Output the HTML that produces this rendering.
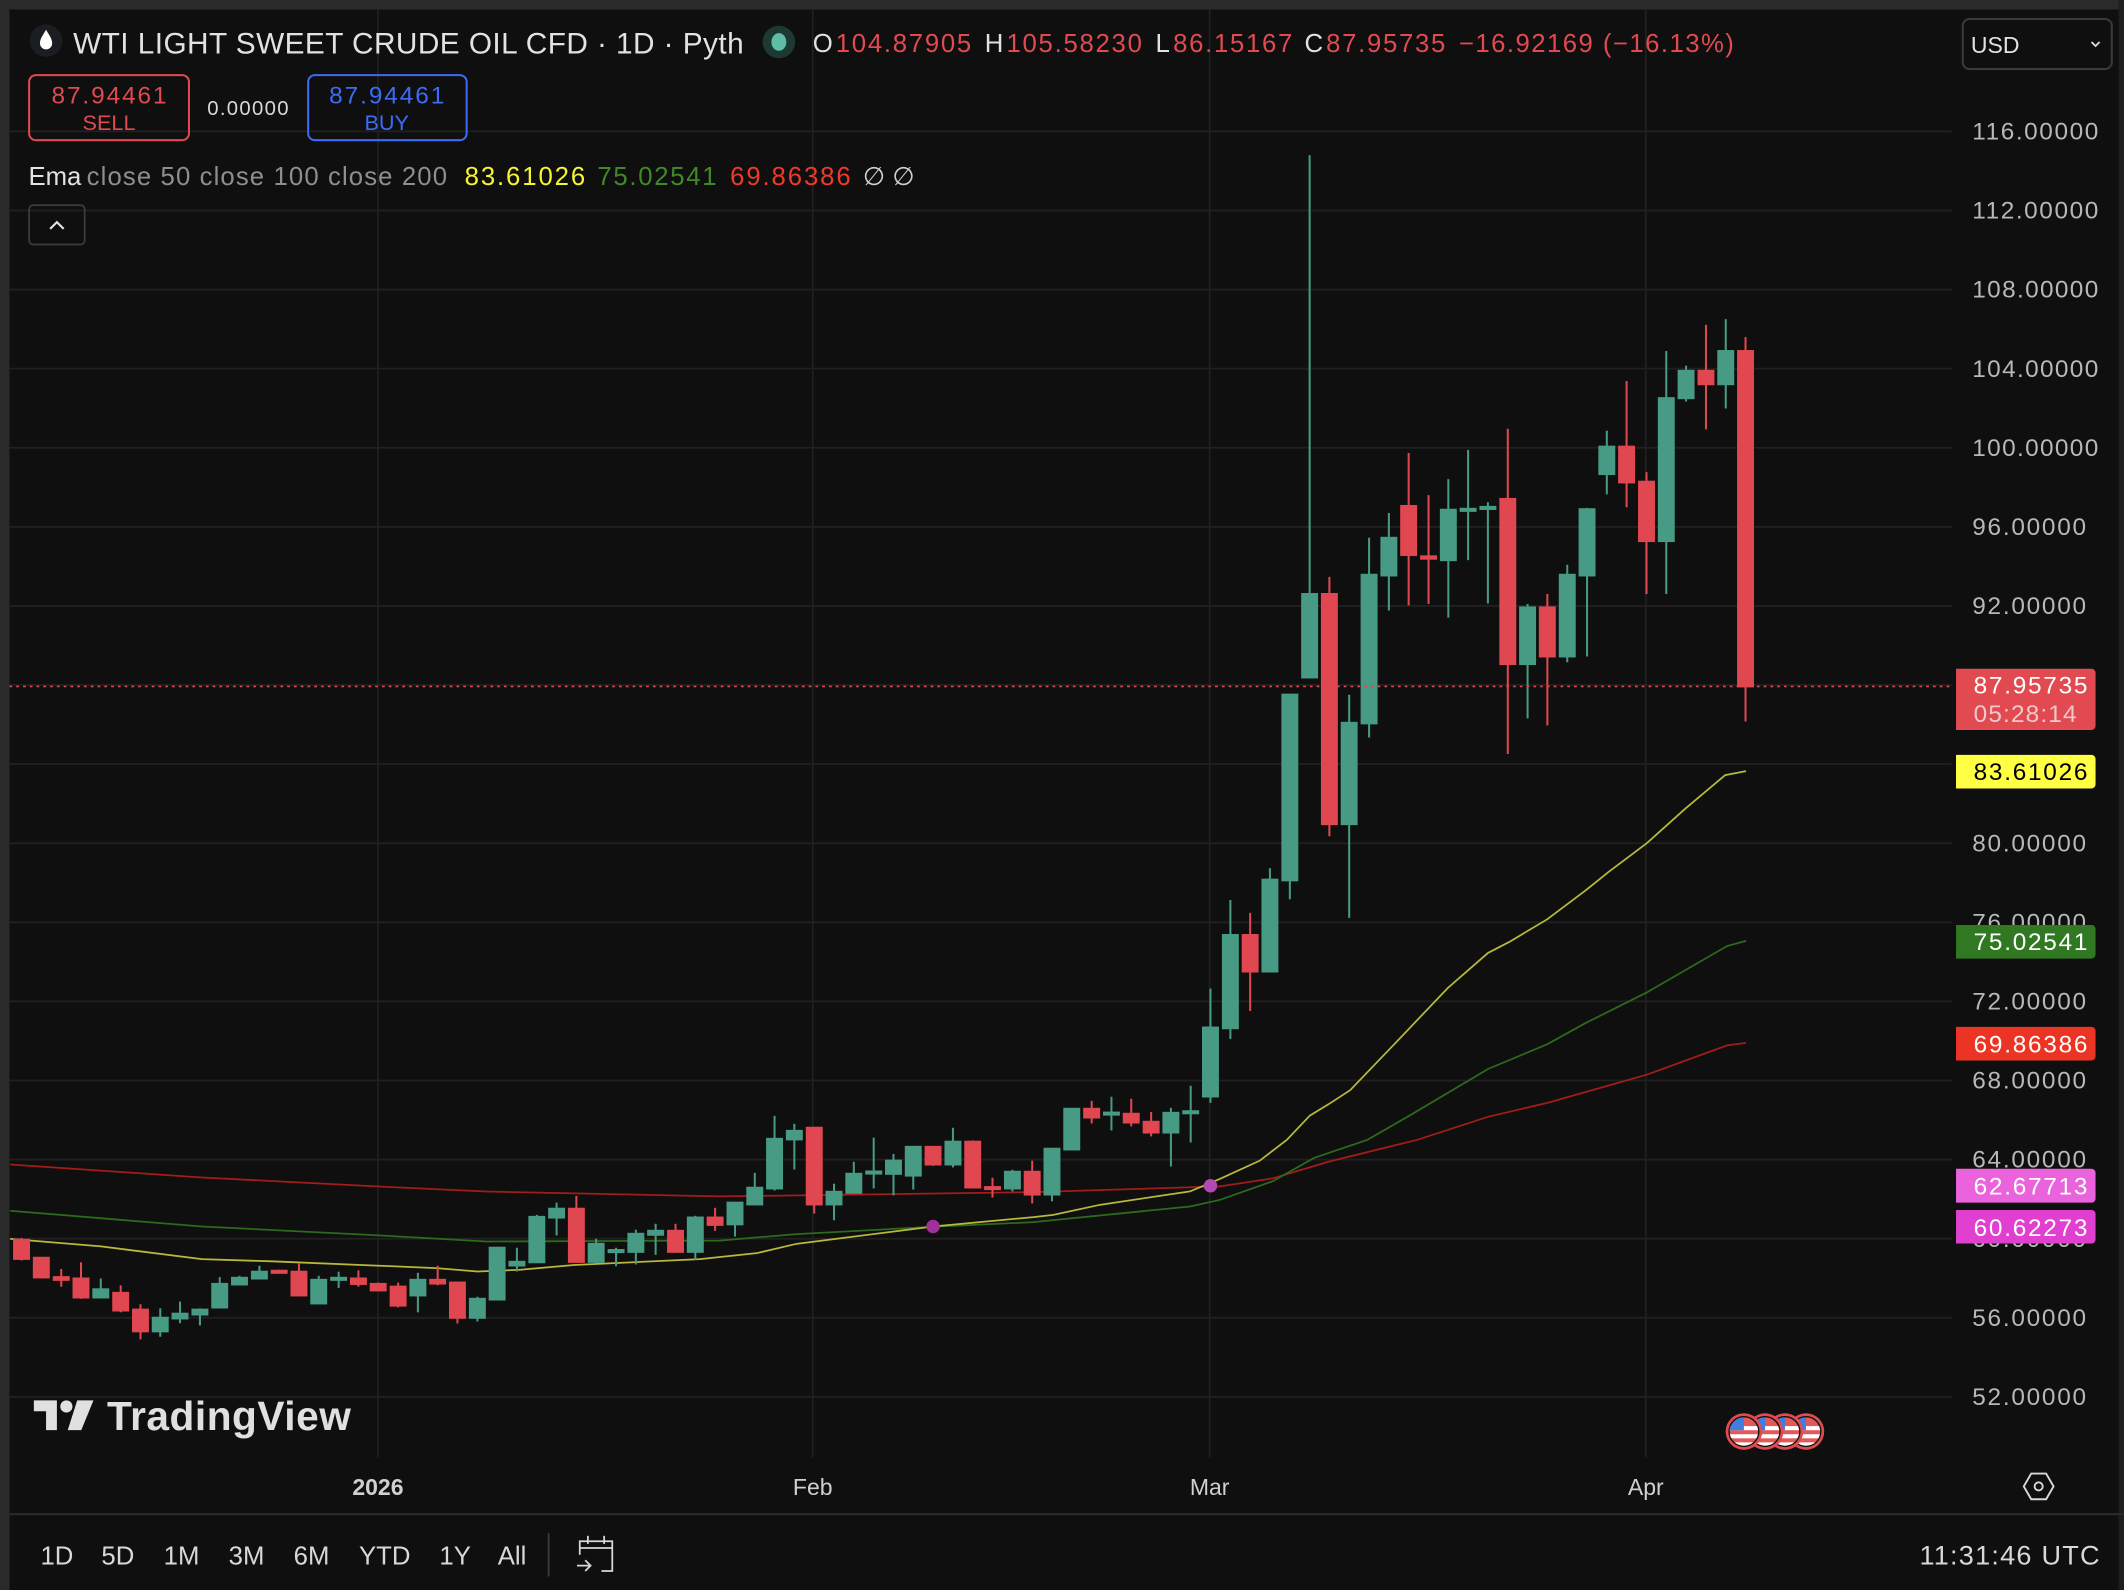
<!DOCTYPE html>
<html><head><meta charset="utf-8"><style>
html,body{margin:0;padding:0;background:#0f0f0f;}
svg{display:block;}
text{font-family:"Liberation Sans",sans-serif;}
</style></head><body>
<svg width="2124" height="1590" viewBox="0 0 1568 1174" preserveAspectRatio="none" xmlns="http://www.w3.org/2000/svg">
<defs>
<clipPath id="fc"><circle cx="0" cy="0" r="10.5"/></clipPath>
<g id="flag">
<circle cx="0" cy="0" r="13.5" fill="#e04a50"/>
<circle cx="0" cy="0" r="11.5" fill="#111"/>
<g clip-path="url(#fc)">
<rect x="-11" y="-11" width="22" height="22" fill="#e05a5a"/>
<rect x="-11" y="-4" width="22" height="3" fill="#fff"/>
<rect x="-11" y="2" width="22" height="3" fill="#fff"/>
<rect x="-11" y="8" width="22" height="3" fill="#fff"/>
<rect x="-11" y="-11" width="11" height="10" fill="#3f7de0"/>
</g>
</g>
</defs>
<rect width="1568" height="1174" fill="#0f0f0f"/>
<rect x="0" y="0" width="1568" height="7" fill="#2a2a2a"/>
<rect x="0" y="0" width="7" height="1174" fill="#2a2a2a"/>
<rect x="1564" y="0" width="4" height="1174" fill="#1e1e1e"/>
<g stroke="#202020" stroke-width="1.3">
<line x1="279" y1="7" x2="279" y2="1076"/><line x1="600" y1="7" x2="600" y2="1076"/><line x1="893" y1="7" x2="893" y2="1076"/><line x1="1215" y1="7" x2="1215" y2="1076"/>
<line x1="7" y1="97" x2="1441" y2="97"/><line x1="7" y1="155.4" x2="1441" y2="155.4"/><line x1="7" y1="213.8" x2="1441" y2="213.8"/><line x1="7" y1="272.2" x2="1441" y2="272.2"/><line x1="7" y1="330.6" x2="1441" y2="330.6"/><line x1="7" y1="389" x2="1441" y2="389"/><line x1="7" y1="447.4" x2="1441" y2="447.4"/><line x1="7" y1="505.8" x2="1441" y2="505.8"/><line x1="7" y1="564.2" x2="1441" y2="564.2"/><line x1="7" y1="622.6" x2="1441" y2="622.6"/><line x1="7" y1="681" x2="1441" y2="681"/><line x1="7" y1="739.4" x2="1441" y2="739.4"/><line x1="7" y1="797.8" x2="1441" y2="797.8"/><line x1="7" y1="856.2" x2="1441" y2="856.2"/><line x1="7" y1="914.6" x2="1441" y2="914.6"/><line x1="7" y1="973" x2="1441" y2="973"/><line x1="7" y1="1031.4" x2="1441" y2="1031.4"/>
</g>
<g fill="#b8b8b8" font-size="18" >
<text x="1456" y="103" textLength="93">116.00000</text>
<text x="1456" y="161.4" textLength="93">112.00000</text>
<text x="1456" y="219.8" textLength="93">108.00000</text>
<text x="1456" y="278.2" textLength="93">104.00000</text>
<text x="1456" y="336.6" textLength="93">100.00000</text>
<text x="1456" y="395" textLength="84">96.00000</text>
<text x="1456" y="453.4" textLength="84">92.00000</text>
<text x="1456" y="628.6" textLength="84">80.00000</text>
<text x="1456" y="687" textLength="84">76.00000</text>
<text x="1456" y="745.4" textLength="84">72.00000</text>
<text x="1456" y="803.8" textLength="84">68.00000</text>
<text x="1456" y="862.2" textLength="84">64.00000</text>
<text x="1456" y="920.6" textLength="84">60.00000</text>
<text x="1456" y="979" textLength="84">56.00000</text>
<text x="1456" y="1037.4" textLength="84">52.00000</text>
</g>
<g fill="none" stroke-width="1.3">
<polyline stroke="#a31c1c" points="7.5,859.8 149,869.4 279.7,876.1 359,879.8 531.5,883.4 762.9,880.2 900.7,876 940,870 980,858 1046.3,841.6 1098.5,824.6 1142.3,814.3 1215.7,793.5 1275,771.9 1289,770"/>
<polyline stroke="#2c6a1c" points="7.5,894 149,905.6 279.7,912.2 359,916.7 531.5,916 588,911.2 688.8,905.8 762.9,902.4 878.5,890.8 900.7,885.9 940,872 970,855 1009.5,841.6 1040.6,823.7 1098.5,789.3 1142.3,771 1170.5,755.4 1215.7,732.8 1275,698.5 1289,694.7"/>
<polyline stroke="#b8b83a" points="7.5,914.7 74.6,920.3 149,929.7 203,931.4 322,936.3 352.5,938.8 383,937.6 423.7,934 516.8,929.7 558.6,925.3 588,918.4 688.8,905.6 762.9,898.7 777.6,897 812,889.6 878.5,879.7 900.7,870.4 930,857 950,841.6 967,823.7 981,815.2 996.8,804.9 1029.3,771 1068.8,729.5 1098.5,703.6 1114,695.6 1142.3,678.7 1170.5,657.5 1187.5,643.8 1215.7,622.6 1244,597.2 1273.6,572.3 1289,569.4"/>
</g>
<g stroke-width="1.5">
<g stroke="#e04750" fill="#e04750">
<line x1="15.9" y1="914" x2="15.9" y2="930.7"/><rect x="10.4" y="915.4" width="11" height="14.1"/>
<line x1="30.5" y1="928.7" x2="30.5" y2="943.2"/><rect x="25" y="928.7" width="11" height="14.5"/>
<line x1="45.2" y1="937" x2="45.2" y2="950"/><rect x="39.7" y="943" width="11" height="2"/>
<line x1="59.8" y1="932" x2="59.8" y2="959"/><rect x="54.3" y="944" width="11" height="14"/>
<line x1="89.1" y1="949" x2="89.1" y2="969"/><rect x="83.6" y="954.6" width="11" height="13"/>
<line x1="103.7" y1="963" x2="103.7" y2="989"/><rect x="98.2" y="967" width="11" height="16"/>
<line x1="206.1" y1="937.5" x2="206.1" y2="940.5"/><rect x="200.6" y="938.3" width="11" height="1.5"/>
<line x1="220.7" y1="933" x2="220.7" y2="956.5"/><rect x="215.2" y="939" width="11" height="17.5"/>
<line x1="264.6" y1="938" x2="264.6" y2="950"/><rect x="259.1" y="944" width="11" height="4"/>
<line x1="279.2" y1="947" x2="279.2" y2="953.5"/><rect x="273.7" y="948" width="11" height="4.8"/>
<line x1="293.9" y1="947" x2="293.9" y2="965.4"/><rect x="288.4" y="950" width="11" height="14"/>
<line x1="323.1" y1="934.6" x2="323.1" y2="949"/><rect x="317.6" y="945" width="11" height="2.7"/>
<line x1="337.7" y1="947" x2="337.7" y2="977.2"/><rect x="332.2" y="947" width="11" height="26"/>
<line x1="425.5" y1="883" x2="425.5" y2="932.5"/><rect x="420" y="892.5" width="11" height="39.2"/>
<line x1="498.7" y1="903.6" x2="498.7" y2="925"/><rect x="493.2" y="908.8" width="11" height="15.5"/>
<line x1="527.9" y1="891.8" x2="527.9" y2="908.8"/><rect x="522.4" y="899" width="11" height="5.4"/>
<line x1="601.1" y1="832.7" x2="601.1" y2="896"/><rect x="595.6" y="832.7" width="11" height="56.6"/>
<line x1="688.8" y1="846.8" x2="688.8" y2="860.8"/><rect x="683.3" y="846.8" width="11" height="13"/>
<line x1="718.1" y1="842" x2="718.1" y2="876.8"/><rect x="712.6" y="843" width="11" height="33.8"/>
<line x1="732.7" y1="869.6" x2="732.7" y2="884.2"/><rect x="727.2" y="876.5" width="11" height="1.5"/>
<line x1="762" y1="857" x2="762" y2="888.6"/><rect x="756.5" y="865.2" width="11" height="16.8"/>
<line x1="805.9" y1="812.8" x2="805.9" y2="829.5"/><rect x="800.4" y="818.7" width="11" height="6.4"/>
<line x1="835.1" y1="811.3" x2="835.1" y2="831.7"/><rect x="829.6" y="822.4" width="11" height="6.4"/>
<line x1="849.8" y1="821" x2="849.8" y2="839.1"/><rect x="844.3" y="828.3" width="11" height="7.9"/>
<line x1="922.9" y1="674" x2="922.9" y2="746.5"/><rect x="917.4" y="690.4" width="11" height="26.9"/>
<line x1="981.4" y1="425.9" x2="981.4" y2="617.5"/><rect x="975.9" y="438.6" width="11" height="169.9"/>
<line x1="1039.9" y1="334.5" x2="1039.9" y2="447"/><rect x="1034.4" y="373.6" width="11" height="36.2"/>
<line x1="1054.6" y1="365.6" x2="1054.6" y2="446"/><rect x="1049.1" y="410.8" width="11" height="1.7"/>
<line x1="1113.1" y1="316.6" x2="1113.1" y2="556.7"/><rect x="1107.6" y="368.4" width="11" height="121.9"/>
<line x1="1142.3" y1="438.6" x2="1142.3" y2="535.6"/><rect x="1136.8" y="448.5" width="11" height="36.2"/>
<line x1="1200.8" y1="281.3" x2="1200.8" y2="374.5"/><rect x="1195.3" y="329.8" width="11" height="26.4"/>
<line x1="1215.5" y1="348.6" x2="1215.5" y2="438.6"/><rect x="1210" y="355.7" width="11" height="43.8"/>
<line x1="1259.4" y1="239.9" x2="1259.4" y2="317"/><rect x="1253.9" y="273.8" width="11" height="9.9"/>
<line x1="1288.6" y1="248.8" x2="1288.6" y2="532.7"/><rect x="1283.1" y="259.2" width="11" height="247.6"/>
</g>
<g stroke="#479b85" fill="#479b85">
<line x1="74.4" y1="944" x2="74.4" y2="958"/><rect x="68.9" y="952" width="11" height="6"/>
<line x1="118.3" y1="966" x2="118.3" y2="987"/><rect x="112.8" y="973" width="11" height="10"/>
<line x1="132.9" y1="961" x2="132.9" y2="977"/><rect x="127.4" y="970" width="11" height="3.5"/>
<line x1="147.6" y1="966" x2="147.6" y2="978.7"/><rect x="142.1" y="967" width="11" height="3.6"/>
<line x1="162.2" y1="943" x2="162.2" y2="965.4"/><rect x="156.7" y="948" width="11" height="17.4"/>
<line x1="176.8" y1="942" x2="176.8" y2="948.4"/><rect x="171.3" y="943.5" width="11" height="4.9"/>
<line x1="191.5" y1="934.6" x2="191.5" y2="944"/><rect x="186" y="939" width="11" height="5"/>
<line x1="235.3" y1="942" x2="235.3" y2="962.4"/><rect x="229.8" y="945" width="11" height="17.4"/>
<line x1="250" y1="939" x2="250" y2="951"/><rect x="244.5" y="943.5" width="11" height="1.5"/>
<line x1="308.5" y1="939.8" x2="308.5" y2="969"/><rect x="303" y="945" width="11" height="11.5"/>
<line x1="352.4" y1="957.5" x2="352.4" y2="975.7"/><rect x="346.9" y="959" width="11" height="14"/>
<line x1="367" y1="920.6" x2="367" y2="959.5"/><rect x="361.5" y="921.3" width="11" height="38.2"/>
<line x1="381.6" y1="921.3" x2="381.6" y2="938.8"/><rect x="376.1" y="931.7" width="11" height="2.7"/>
<line x1="396.3" y1="897" x2="396.3" y2="932"/><rect x="390.8" y="898.5" width="11" height="33.5"/>
<line x1="410.9" y1="888" x2="410.9" y2="912.2"/><rect x="405.4" y="892.5" width="11" height="6.5"/>
<line x1="440.1" y1="914.7" x2="440.1" y2="932.5"/><rect x="434.6" y="918.4" width="11" height="13.3"/>
<line x1="454.8" y1="921.3" x2="454.8" y2="935"/><rect x="449.3" y="923" width="11" height="1.5"/>
<line x1="469.4" y1="908" x2="469.4" y2="933.6"/><rect x="463.9" y="911" width="11" height="13.3"/>
<line x1="484" y1="903.6" x2="484" y2="926.5"/><rect x="478.5" y="908.8" width="11" height="2.9"/>
<line x1="513.3" y1="897.7" x2="513.3" y2="930.2"/><rect x="507.8" y="899" width="11" height="25.3"/>
<line x1="542.6" y1="888" x2="542.6" y2="913"/><rect x="537.1" y="888" width="11" height="16"/>
<line x1="557.2" y1="866" x2="557.2" y2="889.3"/><rect x="551.7" y="877" width="11" height="12.3"/>
<line x1="571.8" y1="823.9" x2="571.8" y2="879"/><rect x="566.3" y="840.9" width="11" height="36.6"/>
<line x1="586.4" y1="829.8" x2="586.4" y2="863.5"/><rect x="580.9" y="835" width="11" height="6.3"/>
<line x1="615.7" y1="874" x2="615.7" y2="901"/><rect x="610.2" y="880" width="11" height="9.3"/>
<line x1="630.3" y1="857.8" x2="630.3" y2="881.5"/><rect x="624.8" y="866.7" width="11" height="14"/>
<line x1="645" y1="840" x2="645" y2="877.5"/><rect x="639.5" y="865" width="11" height="1.5"/>
<line x1="659.6" y1="852" x2="659.6" y2="882.7"/><rect x="654.1" y="857" width="11" height="9.7"/>
<line x1="674.2" y1="846.8" x2="674.2" y2="878.3"/><rect x="668.7" y="846.8" width="11" height="21.2"/>
<line x1="703.5" y1="832.7" x2="703.5" y2="862"/><rect x="698" y="843" width="11" height="16.8"/>
<line x1="747.4" y1="863.7" x2="747.4" y2="879.7"/><rect x="741.9" y="865.2" width="11" height="12.3"/>
<line x1="776.6" y1="848.2" x2="776.6" y2="887"/><rect x="771.1" y="848.2" width="11" height="33.8"/>
<line x1="791.2" y1="818.7" x2="791.2" y2="849.5"/><rect x="785.7" y="818.7" width="11" height="30"/>
<line x1="820.5" y1="809.8" x2="820.5" y2="834.7"/><rect x="815" y="821.5" width="11" height="1.5"/>
<line x1="864.4" y1="818" x2="864.4" y2="861.3"/><rect x="858.9" y="821.7" width="11" height="14.5"/>
<line x1="879" y1="801.7" x2="879" y2="843.6"/><rect x="873.5" y="820.5" width="11" height="1.5"/>
<line x1="893.6" y1="730" x2="893.6" y2="814.3"/><rect x="888.1" y="758.7" width="11" height="50.9"/>
<line x1="908.3" y1="664.5" x2="908.3" y2="767.2"/><rect x="902.8" y="690.4" width="11" height="68.8"/>
<line x1="937.5" y1="641" x2="937.5" y2="717.3"/><rect x="932" y="649.5" width="11" height="67.8"/>
<line x1="952.2" y1="512.9" x2="952.2" y2="664"/><rect x="946.7" y="512.9" width="11" height="137.1"/>
<line x1="966.8" y1="114.6" x2="966.8" y2="500.2"/><rect x="961.3" y="438.6" width="11" height="61.6"/>
<line x1="996" y1="513" x2="996" y2="677.7"/><rect x="990.5" y="533.7" width="11" height="74.8"/>
<line x1="1010.7" y1="397.1" x2="1010.7" y2="544.5"/><rect x="1005.2" y="424.4" width="11" height="109.7"/>
<line x1="1025.3" y1="378.8" x2="1025.3" y2="450.8"/><rect x="1019.8" y="397.1" width="11" height="27.8"/>
<line x1="1069.2" y1="353.8" x2="1069.2" y2="456"/><rect x="1063.7" y="376.4" width="11" height="37.2"/>
<line x1="1083.8" y1="332.2" x2="1083.8" y2="413.6"/><rect x="1078.3" y="375.7" width="11" height="1.5"/>
<line x1="1098.4" y1="370.8" x2="1098.4" y2="445.6"/><rect x="1092.9" y="374.3" width="11" height="1.5"/>
<line x1="1127.7" y1="446" x2="1127.7" y2="530.4"/><rect x="1122.2" y="448.5" width="11" height="41.8"/>
<line x1="1157" y1="417" x2="1157" y2="489"/><rect x="1151.5" y="424.4" width="11" height="60.3"/>
<line x1="1171.6" y1="375" x2="1171.6" y2="484.7"/><rect x="1166.1" y="376" width="11" height="48.9"/>
<line x1="1186.2" y1="318" x2="1186.2" y2="365"/><rect x="1180.7" y="329.8" width="11" height="20.2"/>
<line x1="1230.1" y1="259.2" x2="1230.1" y2="438.6"/><rect x="1224.6" y="294" width="11" height="105.5"/>
<line x1="1244.7" y1="270" x2="1244.7" y2="296.4"/><rect x="1239.2" y="273.8" width="11" height="20.2"/>
<line x1="1274" y1="235.6" x2="1274" y2="301.6"/><rect x="1268.5" y="259.2" width="11" height="24.5"/>
</g>
</g>
<circle cx="688.8" cy="905.6" r="5" fill="#a0309a"/>
<circle cx="893.6" cy="875.5" r="5" fill="#b04ab0"/>
<line x1="7" y1="506.8" x2="1441" y2="506.8" stroke="#e04750" stroke-width="1.2" stroke-dasharray="2,3"/>
<path d="M1444,493.8 H1544 a3,3 0 0 1 3,3 V536 a3,3 0 0 1 -3,3 H1444 Z" fill="#e04a50"/>
<text x="1457" y="512" fill="#fff" font-size="18" textLength="84">87.95735</text>
<text x="1457" y="533" fill="#f2c8ca" font-size="18" textLength="76">05:28:14</text>
<path d="M1444,557.4 H1544 a3,3 0 0 1 3,3 V579.2 a3,3 0 0 1 -3,3 H1444 Z" fill="#ffff44"/>
<text x="1457" y="576" fill="#000" font-size="18" textLength="84">83.61026</text>
<path d="M1444,683 H1544 a3,3 0 0 1 3,3 V704.8 a3,3 0 0 1 -3,3 H1444 Z" fill="#317822"/>
<text x="1457" y="701.5" fill="#fff" font-size="18" textLength="84">75.02541</text>
<path d="M1444,758.2 H1544 a3,3 0 0 1 3,3 V780 a3,3 0 0 1 -3,3 H1444 Z" fill="#ec3424"/>
<text x="1457" y="777" fill="#fff" font-size="18" textLength="84">69.86386</text>
<path d="M1444,863 H1544 a3,3 0 0 1 3,3 V885 a3,3 0 0 1 -3,3 H1444 Z" fill="#ea62dc"/>
<text x="1457" y="882" fill="#fff" font-size="18" textLength="84">62.67713</text>
<path d="M1444,893.4 H1544 a3,3 0 0 1 3,3 V915.2 a3,3 0 0 1 -3,3 H1444 Z" fill="#e03fd0"/>
<text x="1457" y="912.5" fill="#fff" font-size="18" textLength="84">60.62273</text>
<circle cx="34" cy="30" r="12" fill="#1a1d22"/>
<path d="M34,22 C31,27 29.5,29 29.5,32 a4.5,4.5 0 0 0 9,0 C38.5,29 37,27 34,22Z" fill="#fff"/>
<text x="54" y="39.5" fill="#e2e2e2" font-size="22" textLength="495">WTI LIGHT SWEET CRUDE OIL CFD · 1D · Pyth</text>
<circle cx="575" cy="31" r="12" fill="#1d3a32"/>
<ellipse cx="575" cy="31" rx="5.5" ry="6.5" fill="#5fbca5"/>
<g font-size="19">
<text x="600" y="38.5" fill="#e2e2e2">O</text>
<text x="617" y="38.5" fill="#e04a50" textLength="100">104.87905</text>
<text x="727" y="38.5" fill="#e2e2e2">H</text>
<text x="743" y="38.5" fill="#e04a50" textLength="100">105.58230</text>
<text x="853" y="38.5" fill="#e2e2e2">L</text>
<text x="866" y="38.5" fill="#e04a50" textLength="88">86.15167</text>
<text x="963" y="38.5" fill="#e2e2e2">C</text>
<text x="979" y="38.5" fill="#e04a50" textLength="88">87.95735</text>
<text x="1077" y="38.5" fill="#e04a50" textLength="203">−16.92169 (−16.13%)</text>
</g>
<rect x="1449" y="14" width="110" height="37" rx="5" fill="none" stroke="#3a3a3a" stroke-width="1.5"/>
<text x="1455" y="39" fill="#e2e2e2" font-size="17">USD</text>
<path d="M1544,31 l3,3 l3,-3" fill="none" stroke="#ddd" stroke-width="1.3"/>
<rect x="21.5" y="55.5" width="118" height="48" rx="5" fill="none" stroke="#e04a50" stroke-width="1.5"/>
<text x="38" y="76.5" fill="#e04a50" font-size="18" textLength="85">87.94461</text>
<text x="80.5" y="96" fill="#e04a50" font-size="16" text-anchor="middle">SELL</text>
<text x="153" y="85" fill="#d8d8d8" font-size="15" textLength="60">0.00000</text>
<rect x="227.5" y="55.5" width="117" height="48" rx="5" fill="none" stroke="#3c6cf5" stroke-width="1.5"/>
<text x="243" y="76.5" fill="#3c6cf5" font-size="18" textLength="85">87.94461</text>
<text x="285.5" y="96" fill="#3c6cf5" font-size="16" text-anchor="middle">BUY</text>
<g font-size="19">
<text x="21" y="136.5" fill="#e2e2e2">Ema</text>
<text x="64" y="136.5" fill="#8e8e8e" textLength="266">close 50 close 100 close 200</text>
<text x="343" y="136.5" fill="#f5f532" textLength="89">83.61026</text>
<text x="441" y="136.5" fill="#3f8a24" textLength="88">75.02541</text>
<text x="539" y="136.5" fill="#ee3a2a" textLength="89">69.86386</text>
<text x="637" y="136.5" fill="#cfcfcf">∅ ∅</text>
</g>
<rect x="21.5" y="151.5" width="41" height="29" rx="3" fill="none" stroke="#3c3c3c" stroke-width="1.3"/>
<path d="M37,169 l5,-5 l5,5" fill="none" stroke="#e2e2e2" stroke-width="1.6"/>
<g fill="#e0e0e0">
<path d="M25,1034 H42 V1056 H34 V1042 H25Z"/>
<circle cx="49" cy="1038.5" r="4.5"/>
<path d="M57,1034 H69 L60,1056 H50Z"/>
<text x="79" y="1056" font-size="30" font-weight="bold" textLength="180">TradingView</text>
</g>
<use href="#flag" x="1333.2" y="1057"/>
<use href="#flag" x="1317.7" y="1057"/>
<use href="#flag" x="1303" y="1057"/>
<use href="#flag" x="1287.4" y="1057"/>
<g fill="#d0d0d0" font-size="17" text-anchor="middle">
<text x="279" y="1104" font-weight="bold">2026</text>
<text x="600" y="1104">Feb</text>
<text x="893" y="1104">Mar</text>
<text x="1215" y="1104">Apr</text>
</g>
<path d="M1499.5,1088 h11 l5.5,9.5 l-5.5,9.5 h-11 l-5.5,-9.5 Z" fill="none" stroke="#d8d8d8" stroke-width="1.4"/>
<circle cx="1505" cy="1097.5" r="3" fill="none" stroke="#d8d8d8" stroke-width="1.4"/>
<line x1="7" y1="1118" x2="1568" y2="1118" stroke="#2c2c2c" stroke-width="1.5"/>
<g fill="#d8d8d8" font-size="19" text-anchor="middle">
<text x="42" y="1155">1D</text><text x="87" y="1155">5D</text><text x="134" y="1155">1M</text><text x="182" y="1155">3M</text><text x="230" y="1155">6M</text><text x="284" y="1155">YTD</text><text x="336" y="1155">1Y</text><text x="378" y="1155">All</text>
</g>
<line x1="405" y1="1132" x2="405" y2="1164" stroke="#3a3a3a" stroke-width="1.3"/>
<g fill="none" stroke="#d8d8d8" stroke-width="1.3">
<path d="M428,1148 V1138 H452 V1160 H444"/><line x1="428" y1="1143" x2="452" y2="1143"/><line x1="434" y1="1134" x2="434" y2="1140"/><line x1="446" y1="1134" x2="446" y2="1140"/>
<path d="M426,1156 H436 M432,1152 l4,4 l-4,4"/>
</g>
<text x="1417" y="1155" fill="#d8d8d8" font-size="20" textLength="133">11:31:46 UTC</text>
</svg>
</body></html>
